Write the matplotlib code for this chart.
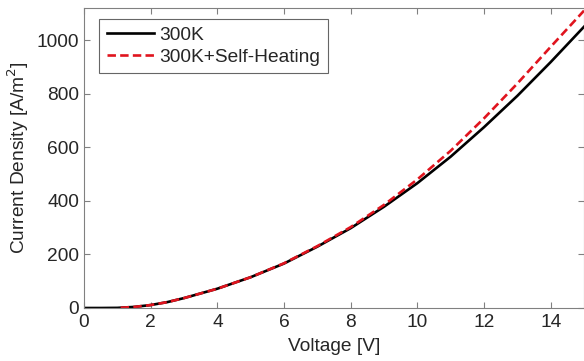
import matplotlib
matplotlib.use("Agg")
import matplotlib.pyplot as plt

plt.rcParams['font.family'] = ['Liberation Sans', 'DejaVu Sans']

# Data
v_300k = [0, 0.5, 1.0, 1.5, 2, 2.5, 3, 4, 5, 6, 7, 8, 9, 10, 11, 12, 13, 14, 15]
j_300k = [0, 0, 0.5, 4, 11, 22, 37, 72, 115, 166, 229, 298, 378, 466, 565, 675, 792, 918, 1050]

v_sh = [1.1, 1.5, 2, 2.5, 3, 4, 5, 6, 7, 8, 9, 10, 11, 12, 13, 14, 15]
j_sh = [1, 4, 11, 22, 37, 72, 115, 167, 231, 302, 385, 480, 587, 708, 838, 975, 1110]

labels = ['300K', '300K+Self-Heating']
xticks = [0, 2, 4, 6, 8, 10, 12, 14]
yticks = [0, 200, 400, 600, 800, 1000]

fig = plt.figure(figsize=(5.84, 3.61), dpi=100)
ax = fig.add_axes([84/584, 53/361, 500/584, 300/361])

ax.plot(v_300k, j_300k, color='black', lw=1.9, label=labels[0])
ax.plot(v_sh, j_sh, color='#e0141e', lw=1.9, ls=(0, (3.2, 1.6)), label=labels[1])

ax.set_xlim(0, 15)
ax.set_ylim(0, 1120)
ax.set_xticks(xticks)
ax.set_yticks(yticks)

fs = 13.8
tc = '#262626'
ax.tick_params(direction='in', length=4, width=0.8, top=True, right=True,
               labelsize=fs, colors='#808080', labelcolor=tc)
ax.tick_params(axis='x', pad=4.5)
ax.tick_params(axis='y', pad=3.5)
for s in ax.spines.values():
    s.set_color('#808080')
    s.set_linewidth(0.8)

ax.set_xlabel('Voltage [V]', fontsize=fs, color=tc, labelpad=5)
ax.set_ylabel('Current Density [A/m$^2$]', fontsize=fs, color=tc, labelpad=4)

leg = ax.legend(loc='upper left', bbox_to_anchor=(0.03, 0.963), fontsize=fs,
                fancybox=False, frameon=True, edgecolor='#404040',
                handlelength=2.45, handletextpad=0.3, borderpad=0.4,
                labelspacing=0.22, borderaxespad=0.0)
leg.get_frame().set_linewidth(0.8)
for t in leg.get_texts():
    t.set_color(tc)

fig.savefig('out.png', dpi=100)
